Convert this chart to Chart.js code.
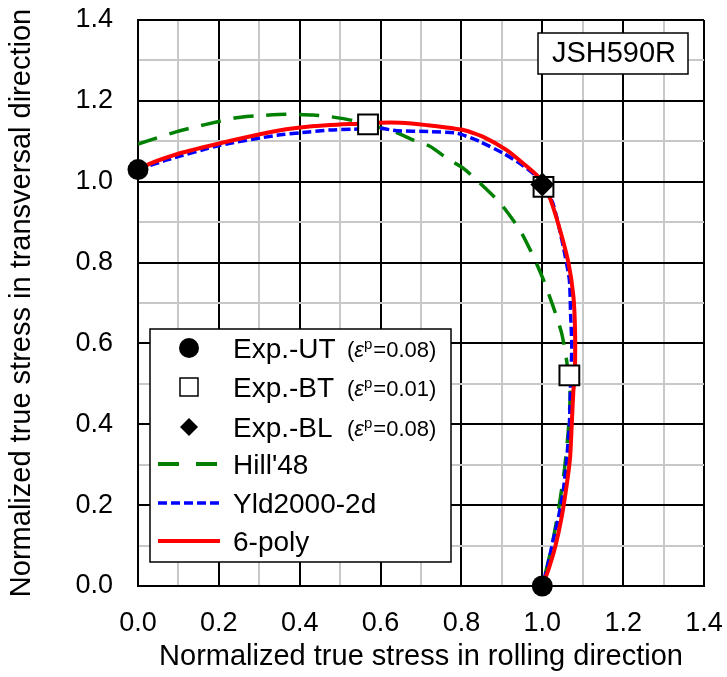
<!DOCTYPE html>
<html lang="en">
<head>
    <meta charset="UTF-8">
    <title>JSH590R yield loci</title>
    <script src="https://cdn.jsdelivr.net/npm/chart.js"></script>
    <style>
        body {
            margin: 0;
            background-color: white;
        }
        .container {
            width: 727px;
            height: 677px;
        }
    </style>
</head>
<body>
    <div class="container">
        <canvas id="locusChart" width="727" height="677"></canvas>
    </div>

    <script>
        // tick labels (major every 0.2, minor grid every 0.1)
        const xTickLabels = ['0.0', '0.2', '0.4', '0.6', '0.8', '1.0', '1.2', '1.4'];
        const yTickLabels = ['0.0', '0.2', '0.4', '0.6', '0.8', '1.0', '1.2', '1.4'];

        // experiments
        const expUTx = [0.0, 1.0];
        const expUTy = [1.03, 0.0];
        const expBTx = [0.569, 1.003, 1.067];
        const expBTy = [1.142, 0.987, 0.521];
        const expBLx = [1.0];
        const expBLy = [0.993];

        // Hill'48
        const hillX = [0.0, 0.096, 0.236, 0.294, 0.368, 0.434, 0.475, 0.533, 0.632, 0.681, 0.723, 0.764,
            0.805, 0.842, 0.896, 0.945, 0.978, 1.003, 1.027, 1.048, 1.060, 1.069, 1.064, 1.055, 1.042, 1.024, 1.0];
        const hillY = [1.093, 1.124, 1.157, 1.163, 1.167, 1.165, 1.161, 1.151, 1.124, 1.103, 1.087, 1.058,
            1.033, 1.000, 0.947, 0.880, 0.815, 0.757, 0.691, 0.625, 0.559, 0.477, 0.38, 0.29, 0.20, 0.10, 0.0];

        // Yld2000-2d
        const yldX = [0.0, 0.072, 0.203, 0.344, 0.401, 0.475, 0.533, 0.599, 0.640, 0.720, 0.789, 0.846,
            0.904, 0.945, 0.986, 1.025, 1.052, 1.067, 1.070, 1.073, 1.070, 1.067, 1.060, 1.052, 1.040, 1.027, 1.013, 1.0];
        const yldY = [1.03, 1.054, 1.090, 1.115, 1.121, 1.128, 1.130, 1.132, 1.126, 1.124, 1.120, 1.099,
            1.070, 1.045, 1.012, 0.950, 0.839, 0.757, 0.674, 0.592, 0.50, 0.40, 0.31, 0.237, 0.17, 0.114, 0.05, 0.0];

        // 6-poly
        const polyX = [0.0, 0.030, 0.096, 0.203, 0.335, 0.401, 0.475, 0.533, 0.595, 0.648, 0.714, 0.805,
            0.854, 0.912, 0.953, 0.990, 1.019, 1.044, 1.065, 1.077, 1.081, 1.081, 1.079, 1.077, 1.073, 1.069,
            1.061, 1.048, 1.032, 1.015, 1.0];
        const polyY = [1.03, 1.045, 1.068, 1.095, 1.124, 1.134, 1.140, 1.143, 1.146, 1.146, 1.140, 1.128,
            1.111, 1.078, 1.045, 1.012, 0.959, 0.880, 0.798, 0.716, 0.633, 0.542, 0.50, 0.485, 0.402, 0.320,
            0.254, 0.171, 0.097, 0.040, 0.0];

        const FONT = "'Liberation Sans', Arial, sans-serif";

        function toPoints(xs, ys) {
            return xs.map((x, i) => ({ x: x, y: ys[i] }));
        }

        // legend box + JSH590R label drawn on top
        const overlayPlugin = {
            id: 'overlay',
            afterDraw(chart) {
                const ctx = chart.ctx;
                ctx.save();

                // material label
                ctx.fillStyle = '#fff';
                ctx.fillRect(538, 33, 150, 41);
                ctx.strokeStyle = '#000';
                ctx.lineWidth = 1.5;
                ctx.strokeRect(538, 33, 150, 41);
                ctx.fillStyle = '#000';
                ctx.font = '29px ' + FONT;
                ctx.textAlign = 'center';
                ctx.textBaseline = 'middle';
                ctx.fillText('JSH590R', 614, 54);

                // legend
                ctx.fillStyle = '#fff';
                ctx.fillRect(150, 329, 301, 233);
                ctx.strokeRect(150, 329, 301, 233);

                const rows = [348, 387, 427, 464, 503, 541];
                ctx.fillStyle = '#000';
                ctx.beginPath();
                ctx.arc(189, rows[0], 10, 0, Math.PI * 2);
                ctx.fill();

                ctx.fillStyle = '#fff';
                ctx.fillRect(180, rows[1] - 9, 18, 18);
                ctx.lineWidth = 1.5;
                ctx.strokeRect(180, rows[1] - 9, 18, 18);

                ctx.fillStyle = '#000';
                ctx.beginPath();
                ctx.moveTo(189, rows[2] - 9);
                ctx.lineTo(198, rows[2]);
                ctx.lineTo(189, rows[2] + 9);
                ctx.lineTo(180, rows[2]);
                ctx.closePath();
                ctx.fill();

                const lines = [
                    { y: rows[3], color: '#008000', dash: [21, 17], w: 4 },
                    { y: rows[4], color: '#0000ff', dash: [9, 4], w: 3.5 },
                    { y: rows[5], color: '#ff0000', dash: [], w: 4 }
                ];
                lines.forEach(l => {
                    ctx.strokeStyle = l.color;
                    ctx.lineWidth = l.w;
                    ctx.setLineDash(l.dash);
                    ctx.beginPath();
                    ctx.moveTo(158, l.y);
                    ctx.lineTo(220, l.y);
                    ctx.stroke();
                });
                ctx.setLineDash([]);

                const names = ['Exp.-UT', 'Exp.-BT', 'Exp.-BL', "Hill'48", 'Yld2000-2d', '6-poly'];
                const strains = ['0.08', '0.01', '0.08'];
                ctx.fillStyle = '#000';
                ctx.textAlign = 'left';
                ctx.textBaseline = 'alphabetic';
                names.forEach((n, i) => {
                    ctx.font = '28px ' + FONT;
                    ctx.fillText(n, 233, rows[i] + 10);
                });
                strains.forEach((s, i) => {
                    let x = 347;
                    const base = rows[i] + 9;
                    ctx.font = '22px ' + FONT;
                    ctx.fillText('(', x, base);
                    x += ctx.measureText('(').width;
                    ctx.font = 'italic 22px ' + FONT;
                    ctx.fillText('ε', x, base);
                    x += ctx.measureText('ε').width;
                    ctx.font = '15px ' + FONT;
                    ctx.fillText('p', x, base - 8);
                    x += ctx.measureText('p').width + 1;
                    ctx.font = '22px ' + FONT;
                    ctx.fillText('=' + s + ')', x, base);
                });

                ctx.restore();
            }
        };

        function gridColor(c) {
            return c.index % 2 === 0 ? '#000000' : '#c8c8c8';
        }

        const ctx = document.getElementById('locusChart').getContext('2d');
        const locusChart = new Chart(ctx, {
            type: 'scatter',
            data: {
                datasets: [
                    {
                        label: 'Exp.-UT',
                        data: toPoints(expUTx, expUTy),
                        pointStyle: 'circle',
                        pointRadius: 10.5,
                        backgroundColor: '#000',
                        borderColor: '#000',
                        borderWidth: 0,
                        clip: false,
                        order: 0
                    },
                    {
                        label: 'Exp.-BT',
                        data: toPoints(expBTx, expBTy),
                        pointStyle: 'rect',
                        pointRadius: 14,
                        backgroundColor: '#fff',
                        borderColor: '#000',
                        borderWidth: 2,
                        clip: false,
                        order: 1
                    },
                    {
                        label: 'Exp.-BL',
                        data: toPoints(expBLx, expBLy),
                        pointStyle: 'rectRot',
                        pointRadius: 12,
                        backgroundColor: '#000',
                        borderColor: '#000',
                        borderWidth: 0,
                        clip: false,
                        order: 0
                    },
                    {
                        label: '6-poly',
                        data: toPoints(polyX, polyY),
                        showLine: true,
                        borderColor: '#ff0000',
                        borderWidth: 4,
                        pointRadius: 0,
                        tension: 0.2,
                        order: 2
                    },
                    {
                        label: 'Yld2000-2d',
                        data: toPoints(yldX, yldY),
                        showLine: true,
                        borderColor: '#0000ff',
                        borderWidth: 3.5,
                        borderDash: [9, 4],
                        pointRadius: 0,
                        tension: 0.2,
                        order: 3
                    },
                    {
                        label: "Hill'48",
                        data: toPoints(hillX, hillY),
                        showLine: true,
                        borderColor: '#008000',
                        borderWidth: 3.5,
                        borderDash: [20, 13],
                        pointRadius: 0,
                        tension: 0.2,
                        order: 4
                    }
                ]
            },
            options: {
                responsive: false,
                animation: false,
                layout: { autoPadding: false, padding: { left: 0, top: 20, right: 23, bottom: 0 } },
                plugins: {
                    legend: { display: false },
                    tooltip: { enabled: false }
                },
                scales: {
                    x: {
                        type: 'linear',
                        min: 0,
                        max: 1.4,
                        // fixed axis band, no label overhang padding
                        afterFit: s => {
                            s.height = 91;
                            s.paddingLeft = 0;
                            s.paddingRight = 0;
                        },
                        ticks: {
                            stepSize: 0.1,
                            autoSkip: false,
                            maxRotation: 0,
                            padding: 21,
                            color: '#000',
                            font: { family: FONT, size: 27 },
                            callback: (v, i) => i % 2 === 0 ? xTickLabels[i / 2] : ''
                        },
                        grid: { color: gridColor, lineWidth: 2, drawTicks: false },
                        border: { display: true, color: '#000', width: 2 },
                        title: {
                            display: true,
                            text: 'Normalized true stress in rolling direction',
                            color: '#000',
                            font: { family: FONT, size: 29 },
                            padding: { top: 0, bottom: 3 }
                        }
                    },
                    y: {
                        type: 'linear',
                        min: 0,
                        max: 1.4,
                        afterFit: s => {
                            s.width = 138;
                            s.paddingTop = 0;
                            s.paddingBottom = 0;
                        },
                        ticks: {
                            stepSize: 0.1,
                            autoSkip: false,
                            padding: 25,
                            color: '#000',
                            font: { family: FONT, size: 27 },
                            callback: (v, i) => i % 2 === 0 ? yTickLabels[i / 2] : ''
                        },
                        grid: { color: gridColor, lineWidth: 2, drawTicks: false },
                        border: { display: true, color: '#000', width: 2 },
                        title: {
                            display: true,
                            text: 'Normalized true stress in transversal direction',
                            color: '#000',
                            font: { family: FONT, size: 29 },
                            padding: { top: 5, bottom: 0 }
                        }
                    }
                }
            },
            plugins: [overlayPlugin]
        });
    </script>
</body>
</html>
